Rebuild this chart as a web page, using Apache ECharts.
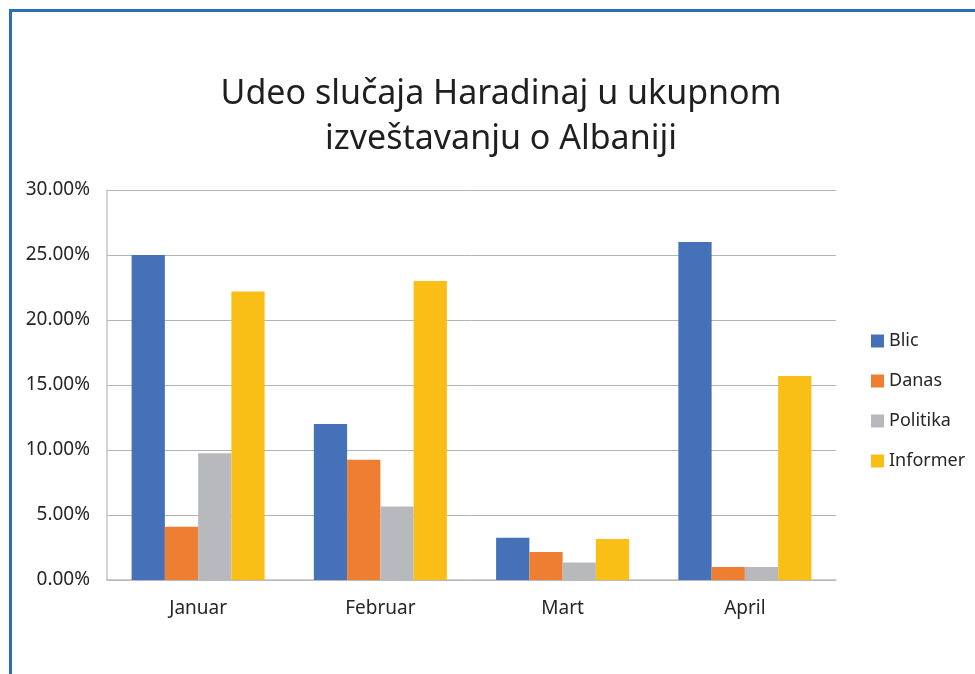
<!DOCTYPE html>
<html>
<head>
<meta charset="utf-8">
<script src="https://cdn.jsdelivr.net/npm/echarts@6/dist/echarts.min.js"></script>
<style>
    body{
        margin: 0;
        background: #fff;
    }
    .frame{
        position: absolute;
        left: 9px;
        top: 9px;
        width: 980px;
        height: 680px;
        border-left: 3px solid #2a6fb3;
        border-top: 3px solid #2a6fb3;
        box-sizing: border-box;
    }
    #chart{
        position: absolute;
        left: 0;
        top: 0;
        width: 975px;
        height: 674px;
    }
</style>
</head>
<body>
<div class="frame"></div>
<div id="chart"></div>
<script>
// data, in percent
const months = ['Januar', 'Februar', 'Mart', 'April'];
const blic = [25.0, 12.0, 3.25, 26.0];
const danas = [4.1, 9.25, 2.15, 1.0];
const politika = [9.75, 5.65, 1.35, 1.0];
const informer = [22.2, 23.0, 3.15, 15.7];
const seriesNames = ['Blic', 'Danas', 'Politika', 'Informer'];
const seriesColors = ['#4471b8', '#ee7e31', '#b8b9bd', '#f9bf17'];

const font = '"Noto Sans", "Open Sans", sans-serif';

let chart = echarts.init(document.getElementById('chart'));

function bar(name, values, color){
    return {
        name: name,
        type: 'bar',
        barGap: 0,
        barCategoryGap: '27%',
        itemStyle: { color: color },
        data: values
    };
}

chart.setOption({
    animation: false,
    textStyle: { fontFamily: font },
    title: {
        text: 'Udeo slučaja Haradinaj u ukupnom\nizveštavanju o Albaniji',
        left: 496,
        top: 67,
        textAlign: 'center',
        textStyle: {
            fontFamily: font,
            fontWeight: 'normal',
            fontSize: 34,
            lineHeight: 45,
            color: '#1f1f1f'
        }
    },
    legend: {
        orient: 'vertical',
        left: 866,
        top: 326,
        itemWidth: 13,
        itemHeight: 13,
        itemGap: 20,
        icon: 'rect',
        data: seriesNames,
        textStyle: { fontSize: 18, lineHeight: 20, color: '#262626', fontFamily: font }
    },
    grid: {
        left: 107,
        right: 139,
        top: 190,
        bottom: 94
    },
    xAxis: {
        type: 'category',
        data: months,
        axisLine: { lineStyle: { color: '#bcbcbc', width: 1.5 } },
        axisTick: { show: false },
        axisLabel: { fontSize: 19, color: '#262626', margin: 19 }
    },
    yAxis: {
        type: 'value',
        min: 0,
        max: 30,
        interval: 5,
        axisLine: { show: true, lineStyle: { color: '#c4c4c4', width: 1.5 } },
        axisTick: { show: false },
        axisLabel: {
            fontSize: 19,
            color: '#262626',
            margin: 17,
            formatter: function(v){ return v.toFixed(2) + '%'; }
        },
        splitLine: { lineStyle: { color: '#b4b4b4', width: 1 } }
    },
    series: [
        bar(seriesNames[0], blic, seriesColors[0]),
        bar(seriesNames[1], danas, seriesColors[1]),
        bar(seriesNames[2], politika, seriesColors[2]),
        bar(seriesNames[3], informer, seriesColors[3])
    ]
});
</script>
</body>
</html>
